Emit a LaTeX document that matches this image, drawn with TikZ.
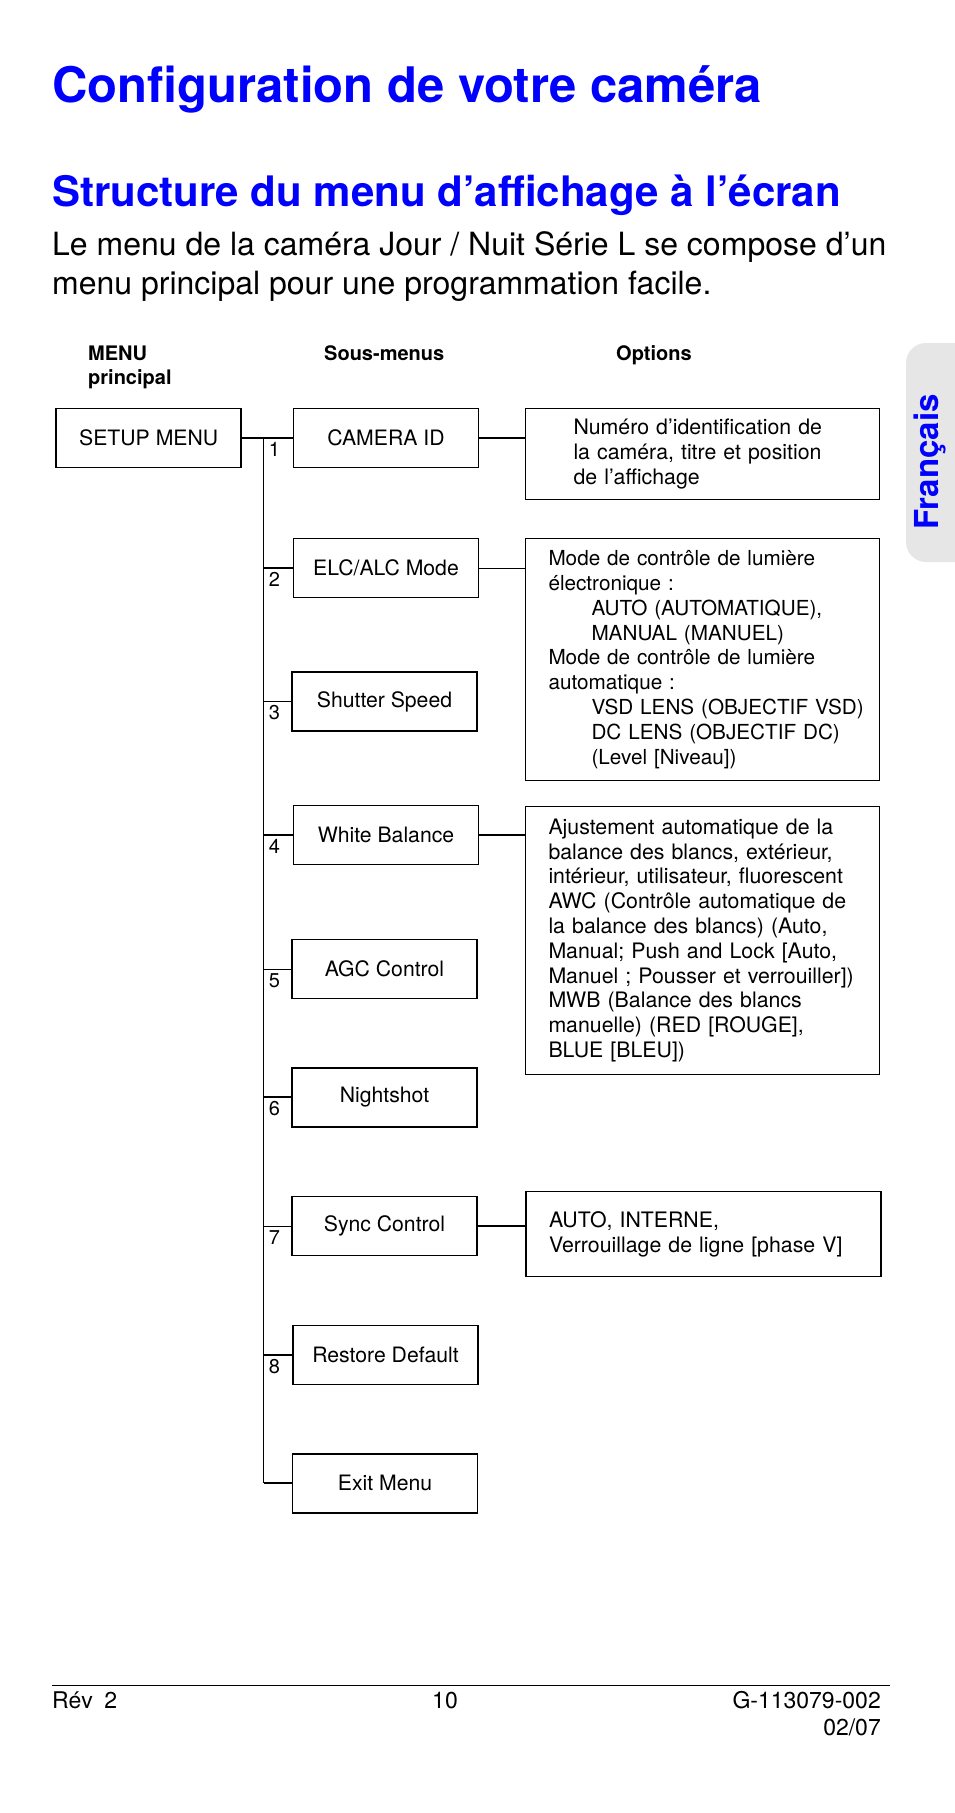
\documentclass[tikz,border=0pt]{standalone}
\usepackage{fontspec}
\setmainfont{TeX Gyre Heros}
\usetikzlibrary{positioning,calc}

\definecolor{titleblue}{RGB}{0,0,255}
\definecolor{tabgray}{RGB}{230,230,230}

\tikzset{
  subbox/.style={draw,line width=1.8pt,minimum width=185pt,minimum height=59pt,inner sep=0pt,
    font=\fontsize{21.2}{24}\selectfont},
  optbox/.style={draw,line width=1.8pt,align=left,inner ysep=0pt,inner xsep=23pt,text width=308pt,
    font=\fontsize{21.3}{24.8}\selectfont},
  numlbl/.style={anchor=north west,inner xsep=5pt,inner ysep=4pt,font=\fontsize{20}{24}\selectfont},
  hdr/.style={anchor=base west,inner sep=0pt,font=\bfseries\fontsize{20}{24}\selectfont},
  ftr/.style={inner sep=0pt,font=\fontsize{23}{27}\selectfont},
  thickline/.style={line width=1.8pt},
  thinline/.style={line width=1pt},
}

\begin{document}
\begin{tikzpicture}[x=1pt,y=-1pt]
  \useasboundingbox (0,0) rectangle (954,1813);

  % titles
  \node[anchor=base west,inner sep=0pt,text=titleblue,font=\bfseries\fontsize{49}{58}\selectfont]
    (title) at (52,102) {Configuration de votre caméra};
  \node[anchor=base west,inner sep=0pt,text=titleblue,font=\bfseries\fontsize{42}{50}\selectfont]
    (subtitle) at (52,206) {Structure du menu d’affichage à l’écran};
  \node[anchor=base west,inner sep=0pt,align=left,font=\fontsize{32}{38.5}\selectfont]
    (intro) at (52,294) {Le menu de la caméra Jour / Nuit Série L se compose d’un\\menu principal pour une programmation facile.};

  % side tab
  \fill[tabgray,rounded corners=20pt] (906,343) rectangle (980,562);
  \node[rotate=90,anchor=base,inner sep=0pt,text=titleblue,font=\bfseries\fontsize{33}{40}\selectfont]
    (lang) at (938,462) {Français};

  % column heads
  \node[hdr] (hmenu) at (88,360) {MENU};
  \node[hdr] (hprinc) at (88,384) {principal};
  \node[hdr] (hsous) at (324,360) {Sous-menus};
  \node[hdr] (hopt) at (616,360) {Options};

  % boxes
  \node[subbox] (setup) at (148.7,438) {SETUP MENU};
  \node[subbox] (cam) at (386,438) {CAMERA ID};
  \node[subbox] (elc) at (386,568) {ELC/ALC Mode};
  \node[subbox] (shut) at (384.5,701.5) {Shutter Speed};
  \node[subbox] (wb) at (386,835) {White Balance};
  \node[subbox] (agc) at (384.5,969) {AGC Control};
  \node[subbox] (night) at (384.5,1097.3) {Nightshot};
  \node[subbox] (sync) at (384.5,1226) {Sync Control};
  \node[subbox] (rest) at (385.5,1355) {Restore Default};
  \node[subbox] (exit) at (385,1483.3) {Exit Menu};

  \node[optbox,inner xsep=48pt,text width=258pt,minimum height=91pt] (opt1) at (702.5,454)
    {Numéro d’identification de\\la caméra, titre et position\\de l’affichage};
  \node[optbox,minimum height=242pt,font=\fontsize{20.7}{24.8}\selectfont] (opt2) at (702.5,659.5)
    {Mode de contrôle de lumière\\électronique :\\
     \hspace*{43pt}\mbox{AUTO (AUTOMATIQUE),}\\\hspace*{43pt}\mbox{MANUAL (MANUEL)}\\
     Mode de contrôle de lumière\\automatique :\\
     \hspace*{43pt}\mbox{VSD LENS (OBJECTIF VSD)}\\\hspace*{43pt}\mbox{DC LENS (OBJECTIF DC)}\\
     \hspace*{43pt}\mbox{(Level [Niveau])}};
  \node[optbox,minimum height=268pt] (opt3) at (702.5,940.4)
    {Ajustement automatique de la\\balance des blancs, extérieur,\\
     \mbox{intérieur, utilisateur, fluorescent}\\\mbox{AWC (Contrôle automatique de}\\
     la balance des blancs) (Auto,\\\mbox{Manual; Push and Lock [Auto,}\\
     \mbox{Manuel ; Pousser et verrouiller])}\\MWB (Balance des blancs\\
     manuelle) (RED [ROUGE],\\BLUE [BLEU])};
  \node[optbox,minimum height=85pt,text width=309pt] (opt4) at (703.5,1234)
    {AUTO, INTERNE,\\\mbox{Verrouillage de ligne [phase V]}};

  % tree
  \coordinate (trunk) at (263.7,0);
  \draw[line width=1.3pt] (trunk |- setup.east) -- (trunk |- exit.west);
  \draw[thickline] (setup.east) -- (cam.west);
  \draw[thickline] (trunk |- elc.west) -- (elc.west);
  \draw[thinline] (trunk |- shut.west) -- (shut.west);
  \draw[thickline] (trunk |- wb.west) -- (wb.west);
  \draw[thinline] (trunk |- agc.west) -- (agc.west);
  \draw[thickline] (trunk |- night.west) -- (night.west);
  \draw[thinline] (trunk |- sync.west) -- (sync.west);
  \draw[thickline] (trunk |- rest.west) -- (rest.west);
  \draw[thickline] (trunk |- exit.west) -- (exit.west);

  \node[numlbl] (n1) at (trunk |- cam.west) {1};
  \node[numlbl] (n2) at (trunk |- elc.west) {2};
  \node[numlbl] (n3) at (trunk |- shut.west) {3};
  \node[numlbl] (n4) at (trunk |- wb.west) {4};
  \node[numlbl] (n5) at (trunk |- agc.west) {5};
  \node[numlbl] (n6) at (trunk |- night.west) {6};
  \node[numlbl] (n7) at (trunk |- sync.west) {7};
  \node[numlbl] (n8) at (trunk |- rest.west) {8};

  \draw[thickline] (cam.east) -- (cam.east -| opt1.west);
  \draw[thinline] (elc.east) -- (elc.east -| opt2.west);
  \draw[thickline] (wb.east) -- (wb.east -| opt3.west);
  \draw[thickline] (sync.east) -- (sync.east -| opt4.west);

  % footer
  \draw[line width=0.9pt] (52,1685) -- (890,1685);
  \node[ftr,anchor=base west] (rev) at (52,1708) {Rév\hspace{0.5em}2};
  \node[ftr,anchor=base] (page) at (445,1708) {10};
  \node[ftr,anchor=base east] (docno) at (881,1708) {G-113079-002};
  \node[ftr,anchor=base east] (date) at (881,1735) {02/07};
\end{tikzpicture}
\end{document}
